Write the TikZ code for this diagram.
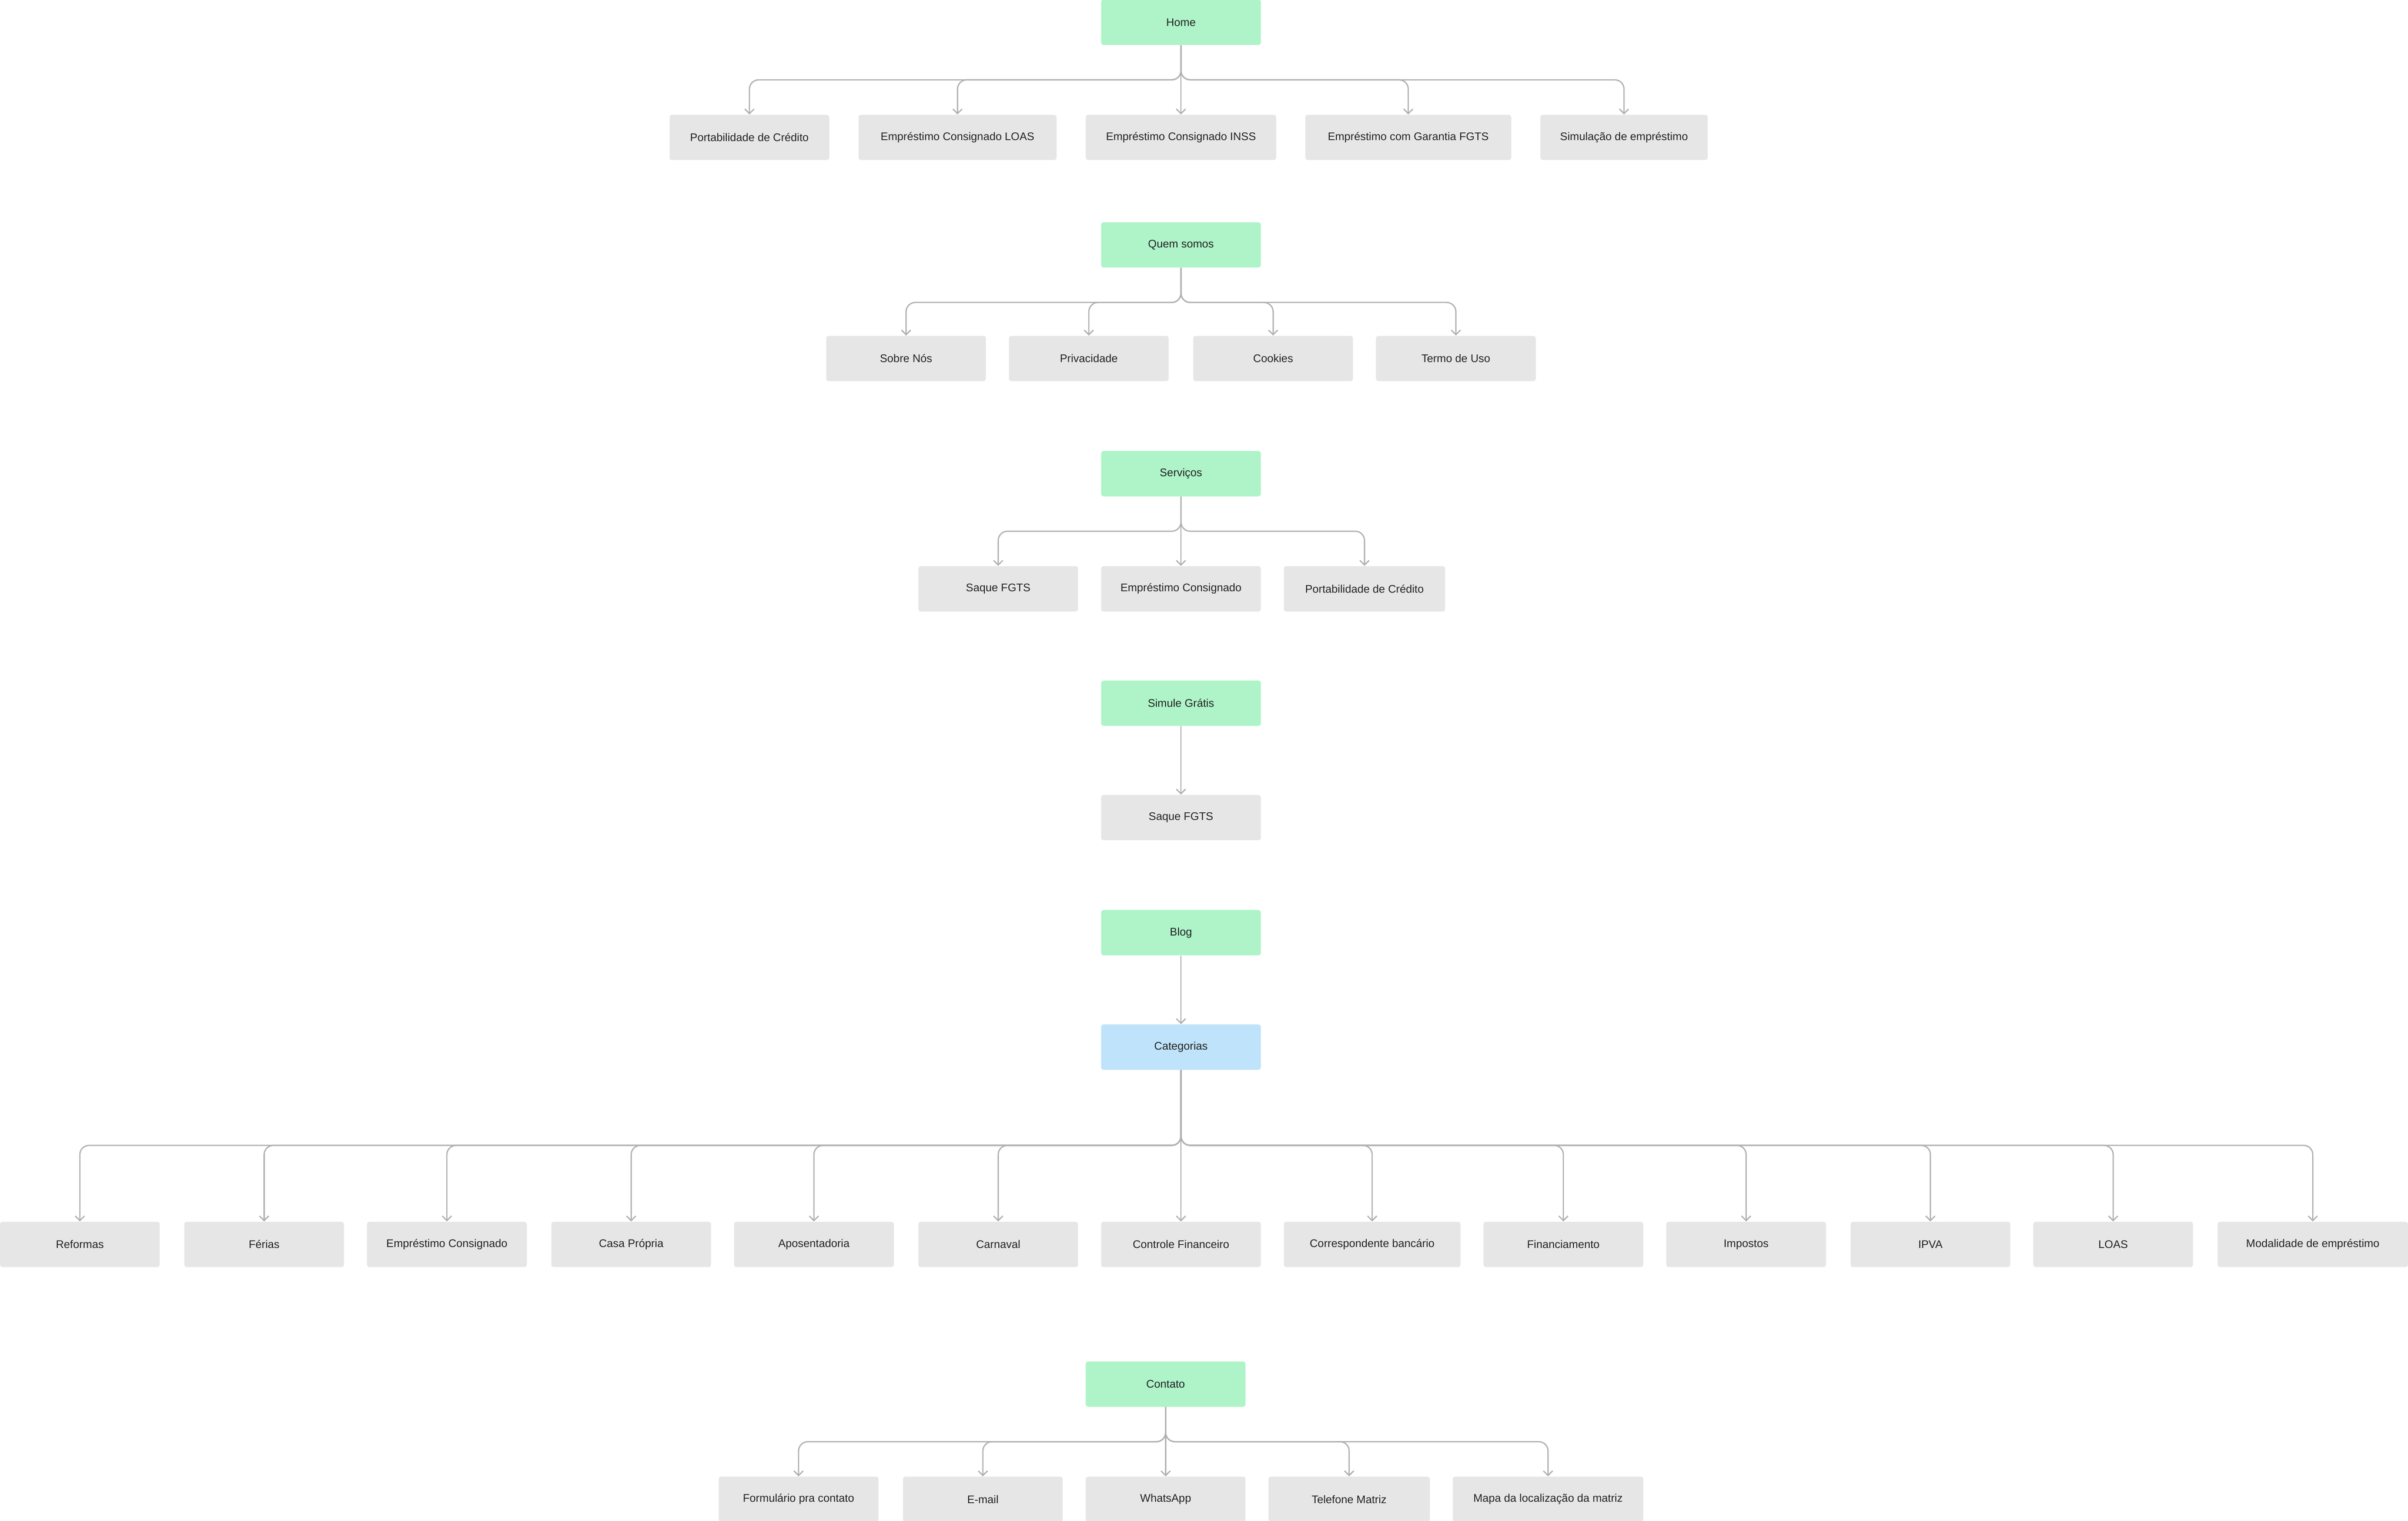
\documentclass[tikz,border=0pt]{standalone}
\usepackage{fontspec}
\setmainfont{Liberation Sans}
\usetikzlibrary{arrows.meta}
\definecolor{gr}{HTML}{AEF4C8}
\definecolor{bl}{HTML}{BFE3FB}
\definecolor{gy}{HTML}{E6E6E6}
\definecolor{ln}{HTML}{B0B0B0}
\definecolor{tx}{HTML}{222222}
\tikzset{
 box/.style={rounded corners=1.5pt,minimum height=29.5pt,inner sep=0pt,font=\fontsize{7.2}{8}\selectfont,text=tx},
 top/.style={box,fill=gr,minimum width=104pt},
 cat/.style={box,fill=bl,minimum width=104pt},
 leaf/.style={box,fill=gy},
 conn/.style={draw=ln,line width=0.8pt,rounded corners=6pt,-{Straight Barb[length=3pt,width=6pt]}}
}
\begin{document}
\begin{tikzpicture}[x=1pt,y=-1pt]
\useasboundingbox (0,0) rectangle (1568,990.6);
% Home
\node[top] (home) at (769,14.5) {Home};
\coordinate (bh) at (769,52);
\foreach \n/\x/\w/\t in {h1/488/104/Portabilidade de Crédito, h2/623.5/129/Empréstimo Consignado LOAS, h3/769/124/Empréstimo Consignado INSS, h4/917/134/Empréstimo com Garantia FGTS, h5/1057.5/109/Simulação de empréstimo}{
 \node[leaf,minimum width=\w pt] (\n) at (\x,89.5) {\t};
 \draw[conn] (home.south) -- (bh) -| (\n.north);}
% Quem somos
\node[top] (qs) at (769,159.5) {Quem somos};
\coordinate (bq) at (769,197);
\foreach \n/\x/\t in {q1/590/Sobre Nós, q2/709/Privacidade, q3/829/Cookies, q4/948/Termo de Uso}{
 \node[leaf,minimum width=104pt] (\n) at (\x,233.5) {\t};
 \draw[conn] (qs.south) -- (bq) -| (\n.north);}
% Servicos
\node[top] (sv) at (769,308.5) {Serviços};
\coordinate (bs) at (769,346);
\foreach \n/\x/\w/\t in {s1/650/104/Saque FGTS, s2/769/104/Empréstimo Consignado, s3/888.5/105/Portabilidade de Crédito}{
 \node[leaf,minimum width=\w pt] (\n) at (\x,383.5) {\t};
 \draw[conn] (sv.south) -- (bs) -| (\n.north);}
% Simule
\node[top] (sg) at (769,458) {Simule Grátis};
\node[leaf,minimum width=104pt] (sg1) at (769,532.5) {Saque FGTS};
\draw[conn] (sg.south) -- (sg1.north);
% Blog
\node[top] (blog) at (769,607.5) {Blog};
\node[cat] (cats) at (769,682) {Categorias};
\draw[conn] (blog.south) -- (cats.north);
\coordinate (bc) at (769,746);
\foreach \n/\x/\w/\t in {c1/52/104/Reformas, c2/172/104/Férias, c3/291/104/Empréstimo Consignado, c4/411/104/Casa Própria, c5/530/104/Aposentadoria, c6/650/104/Carnaval, c7/769/104/Controle Financeiro, c8/893.5/115/Correspondente bancário, c9/1018/104/Financiamento, c10/1137/104/Impostos, c11/1257/104/IPVA, c12/1376/104/LOAS, c13/1506/124/Modalidade de empréstimo}{
 \node[leaf,minimum width=\w pt] (\n) at (\x,810.5) {\t};
 \draw[conn] (cats.south) -- (bc) -| (\n.north);}
% Contato
\node[top] (ct) at (759,901.5) {Contato};
\coordinate (bt) at (759,939);
\foreach \n/\x/\w/\t in {t1/520/104/Formulário pra contato, t2/640/104/E-mail, t3/759/104/WhatsApp, t4/878.5/105/Telefone Matriz, t5/1008/124/Mapa da localização da matriz}{
 \node[leaf,minimum width=\w pt] (\n) at (\x,976.5) {\t};
 \draw[conn] (ct.south) -- (bt) -| (\n.north);}
\end{tikzpicture}
\end{document}
